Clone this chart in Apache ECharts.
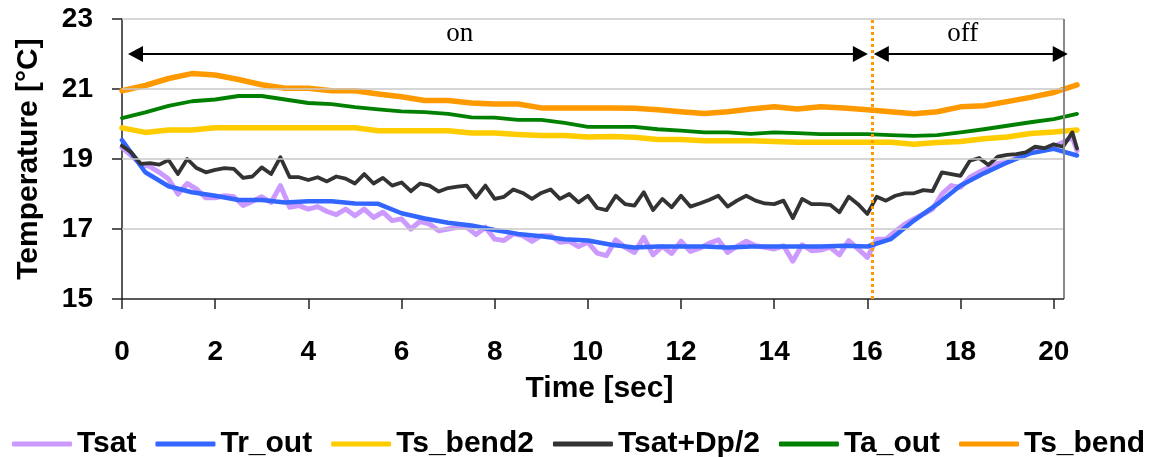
<!DOCTYPE html>
<html>
<head>
<meta charset="utf-8">
<script src="https://cdn.jsdelivr.net/npm/echarts@6/dist/echarts.min.js"></script>
<style>
    html, body { margin: 0; padding: 0; background: #fff; }
    #chartDiv { width: 1155px; height: 457px; }
</style>
</head>
<body>
<div id="chartDiv"></div>
<script>
// sampled every 0.2 s (noisy channels)
var timeFine = [
    0, 0.2, 0.4, 0.6, 0.8, 1.0, 1.2, 1.4, 1.6, 1.8,
    2.0, 2.2, 2.4, 2.6, 2.8, 3.0, 3.2, 3.4, 3.6, 3.8,
    4.0, 4.2, 4.4, 4.6, 4.8, 5.0, 5.2, 5.4, 5.6, 5.8,
    6.0, 6.2, 6.4, 6.6, 6.8, 7.0, 7.2, 7.4, 7.6, 7.8,
    8.0, 8.2, 8.4, 8.6, 8.8, 9.0, 9.2, 9.4, 9.6, 9.8,
    10.0, 10.2, 10.4, 10.6, 10.8, 11.0, 11.2, 11.4, 11.6, 11.8,
    12.0, 12.2, 12.4, 12.6, 12.8, 13.0, 13.2, 13.4, 13.6, 13.8,
    14.0, 14.2, 14.4, 14.6, 14.8, 15.0, 15.2, 15.4, 15.6, 15.8,
    16.0, 16.2, 16.4, 16.6, 16.8, 17.0, 17.2, 17.4, 17.6, 17.8,
    18.0, 18.2, 18.4, 18.6, 18.8, 19.0, 19.2, 19.4, 19.6, 19.8,
    20.0, 20.2, 20.4, 20.5
];
// sampled every 0.5 s (smooth channels)
var timeCoarse = [
    0, 0.5, 1.0, 1.5, 2.0, 2.5, 3.0, 3.5, 4.0, 4.5,
    5.0, 5.5, 6.0, 6.5, 7.0, 7.5, 8.0, 8.5, 9.0, 9.5,
    10.0, 10.5, 11.0, 11.5, 12.0, 12.5, 13.0, 13.5, 14.0, 14.5,
    15.0, 15.5, 16.0, 16.5, 17.0, 17.5, 18.0, 18.5, 19.0, 19.5,
    20.0, 20.5
];

var tsat = [
    19.33, 19.1, 18.86, 18.78, 18.62, 18.43, 18.0, 18.3, 18.14, 17.89,
    17.89, 17.95, 17.92, 17.67, 17.79, 17.92, 17.76, 18.24, 17.62, 17.67,
    17.57, 17.64, 17.5, 17.41, 17.57, 17.38, 17.57, 17.33, 17.48, 17.24,
    17.29, 17.0, 17.22, 17.14, 16.95, 17.0, 17.05, 17.05, 16.84, 17.05,
    16.71, 16.67, 16.86, 16.81, 16.65, 16.81, 16.81, 16.62, 16.65, 16.5,
    16.62, 16.31, 16.24, 16.69, 16.48, 16.33, 16.76, 16.26, 16.5, 16.3,
    16.65, 16.36, 16.45, 16.59, 16.69, 16.33, 16.5, 16.65, 16.52, 16.48,
    16.43, 16.52, 16.08, 16.55, 16.38, 16.4, 16.48, 16.26, 16.67, 16.43,
    16.19, 16.71, 16.71, 16.93, 17.14, 17.29, 17.43, 17.57, 18.0, 18.24,
    18.19, 18.48, 18.62, 18.76, 18.88, 18.9, 19.03, 19.12, 19.29, 19.26,
    19.35, 19.48, 19.62, 19.24
];
var tsatDp = [
    19.38, 19.19, 18.86, 18.88, 18.84, 18.97, 18.57, 19.0, 18.74, 18.62,
    18.69, 18.74, 18.72, 18.46, 18.5, 18.76, 18.57, 19.05, 18.48, 18.48,
    18.4, 18.48, 18.36, 18.5, 18.44, 18.3, 18.57, 18.3, 18.46, 18.24,
    18.33, 18.08, 18.3, 18.24, 18.07, 18.17, 18.21, 18.24, 17.9, 18.24,
    17.86, 17.92, 18.13, 18.03, 17.86, 18.03, 18.13, 17.86, 18.0, 17.76,
    17.95, 17.6, 17.54, 17.95, 17.71, 17.67, 18.05, 17.54, 17.86, 17.62,
    17.95, 17.64, 17.73, 17.83, 17.95, 17.64, 17.81, 17.95, 17.81, 17.73,
    17.71, 17.81, 17.31, 17.86, 17.71, 17.71, 17.69, 17.48, 17.92, 17.71,
    17.43, 17.92, 17.81, 17.95, 18.02, 18.02, 18.11, 18.08, 18.62, 18.57,
    18.52, 18.95, 19.03, 18.83, 19.07, 19.12, 19.14, 19.19, 19.35, 19.31,
    19.42, 19.35, 19.76, 19.3
];
var trOut = [
    19.54, 18.62, 18.22, 18.05, 17.95, 17.83, 17.83, 17.76, 17.79, 17.79,
    17.73, 17.72, 17.45, 17.3, 17.18, 17.1, 16.97, 16.86, 16.79, 16.71,
    16.67, 16.55, 16.47, 16.5, 16.5, 16.5, 16.47, 16.5, 16.5, 16.5,
    16.5, 16.52, 16.5, 16.71, 17.24, 17.71, 18.24, 18.59, 18.9, 19.16,
    19.29, 19.1
];
var tsBend2 = [
    19.89, 19.76, 19.83, 19.83, 19.89, 19.89, 19.89, 19.89, 19.89, 19.89,
    19.89, 19.81, 19.81, 19.81, 19.81, 19.74, 19.74, 19.7, 19.67, 19.67,
    19.63, 19.64, 19.62, 19.56, 19.56, 19.52, 19.52, 19.52, 19.5, 19.48,
    19.48, 19.48, 19.48, 19.48, 19.42, 19.47, 19.5, 19.58, 19.63, 19.73,
    19.77, 19.83
];
var taOut = [
    20.17, 20.33, 20.52, 20.65, 20.7, 20.8, 20.8, 20.7, 20.6, 20.57,
    20.48, 20.42, 20.36, 20.34, 20.29, 20.19, 20.18, 20.12, 20.12, 20.03,
    19.92, 19.92, 19.92, 19.85, 19.81, 19.76, 19.76, 19.72, 19.76, 19.74,
    19.71, 19.71, 19.71, 19.68, 19.66, 19.68, 19.76, 19.85, 19.95, 20.05,
    20.14, 20.29
];
var tsBend = [
    20.95, 21.1, 21.3, 21.44, 21.4, 21.27, 21.12, 21.02, 21.02, 20.95,
    20.95, 20.86, 20.78, 20.67, 20.67, 20.6, 20.57, 20.57, 20.46, 20.46,
    20.46, 20.46, 20.45, 20.41, 20.35, 20.3, 20.35, 20.43, 20.49, 20.43,
    20.49, 20.46, 20.41, 20.35, 20.29, 20.35, 20.49, 20.52, 20.64, 20.76,
    20.9, 21.12
];

var seriesNames = ['Tsat', 'Tr_out', 'Ts_bend2', 'Tsat+Dp/2', 'Ta_out', 'Ts_bend'];
var timeTicks = [0, 2, 4, 6, 8, 10, 12, 14, 16, 18, 20];
var tempTicks = [15, 17, 19, 21, 23];
var frameEnd = 20.22;      // right edge of the plot frame (traces run a little past it)
var switchTime = 16.1;     // pump switched off
var arrowLevel = 22;       // temperature level of the on/off arrows
var onArrow = [0.29, 15.85];
var offArrow = [16.3, 20.14];
var phaseLabels = [['on', 7.25, 22.58], ['off', 18.05, 22.58]];

var FONT = '"Liberation Sans", Arial, sans-serif';

function pairs(xs, ys) {
    var out = [];
    for (var i = 0; i < xs.length && i < ys.length; i++) {
        out.push([xs[i], ys[i]]);
    }
    return out;
}

function lineSeries(name, xs, ys, color, width) {
    return {
        name: name,
        type: 'line',
        data: pairs(xs, ys),
        symbol: 'none',
        showSymbol: false,
        clip: false,
        lineStyle: {color: color, width: width, join: 'round', cap: 'round'},
        itemStyle: {color: color},
        animation: false
    };
}

function drawChart() {
    var series = [
        lineSeries('Tsat', timeFine, tsat, '#CC99FF', 5),
        lineSeries('Tr_out', timeCoarse, trOut, '#3366FF', 4.5),
        lineSeries('Ts_bend2', timeCoarse, tsBend2, '#FFCC00', 5.5),
        lineSeries('Tsat+Dp/2', timeFine, tsatDp, '#333333', 3.8),
        lineSeries('Ta_out', timeCoarse, taOut, '#008000', 3.8),
        lineSeries('Ts_bend', timeCoarse, tsBend, '#FF9900', 5.5)
    ];

    // plot frame: gridlines, right border and bottom axis line, stopping at frameEnd
    var frameLines = [];
    tempTicks.forEach(function (v) {
        if (v === 15) return;
        frameLines.push([{coord: [0, v]}, {coord: [frameEnd, v]}]);
    });
    frameLines.push([{coord: [frameEnd, 15], lineStyle: {color: '#8a8a8a', width: 2}},
                     {coord: [frameEnd, 23]}]);
    frameLines.push([{coord: [0, 15], lineStyle: {color: '#222', width: 1.5}},
                     {coord: [frameEnd, 15]}]);
    series.unshift({
        name: 'frame',
        type: 'line',
        data: [],
        z: 1,
        animation: false,
        markLine: {
            silent: true,
            symbol: 'none',
            label: {show: false},
            lineStyle: {color: '#c8c8c8', width: 1.5, type: 'solid'},
            data: frameLines
        }
    });

    // dotted switch-off line
    series.push({
        name: 'switch',
        type: 'line',
        data: [],
        animation: false,
        markLine: {
            silent: true,
            symbol: 'none',
            label: {show: false},
            lineStyle: {color: '#FF9900', width: 3, type: [3, 3]},
            data: [[{coord: [switchTime, 15]}, {coord: [switchTime, 23]}]]
        }
    });

    // on / off arrows and their labels
    series.push({
        name: 'phases',
        type: 'line',
        data: [],
        animation: false,
        markLine: {
            silent: true,
            symbol: ['triangle', 'triangle'],
            symbolSize: [16, 15],
            label: {show: false},
            lineStyle: {color: '#000', width: 2, type: 'solid'},
            data: [
                [{coord: [onArrow[0], arrowLevel]}, {coord: [onArrow[1], arrowLevel]}],
                [{coord: [offArrow[0], arrowLevel]}, {coord: [offArrow[1], arrowLevel]}]
            ]
        },
        markPoint: {
            silent: true,
            symbol: 'circle',
            symbolSize: 0,
            label: {
                show: true,
                formatter: '{b}',
                color: '#000',
                fontSize: 27,
                fontFamily: '"Liberation Serif", "Times New Roman", serif'
            },
            data: phaseLabels.map(function (p) {
                return {name: p[0], coord: [p[1], p[2]]};
            })
        }
    });

    var option = {
        backgroundColor: '#fff',
        animation: false,
        grid: {
            left: 122,
            right: 78,
            top: 19,
            bottom: 158,
            show: false
        },
        legend: {
            data: seriesNames,
            left: 7,
            top: 424,
            width: 1148,
            icon: 'roundRect',
            itemWidth: 60,
            itemHeight: 5,
            itemGap: 19,
            textStyle: {fontSize: 30, fontWeight: 'bold', color: '#000', fontFamily: FONT}
        },
        xAxis: {
            type: 'value',
            min: 0,
            max: 20.5,
            interval: 2,
            name: 'Time [sec]',
            nameLocation: 'middle',
            nameGap: 75,
            nameTextStyle: {fontSize: 30, fontWeight: 'bold', color: '#000', fontFamily: FONT},
            axisLine: {show: false, onZero: false},
            axisTick: {
                show: true,
                length: 10,
                customValues: timeTicks,
                lineStyle: {color: '#222', width: 1.5}
            },
            axisLabel: {
                margin: 39,
                fontSize: 28,
                fontWeight: 'bold',
                color: '#000',
                fontFamily: FONT,
                customValues: timeTicks
            },
            splitLine: {show: false}
        },
        yAxis: {
            type: 'value',
            min: 15,
            max: 23,
            interval: 2,
            name: 'Temperature [°C]',
            nameLocation: 'middle',
            nameGap: 78,
            nameTextStyle: {fontSize: 30, fontWeight: 'bold', color: '#000', fontFamily: FONT},
            axisLine: {show: true, lineStyle: {color: '#222', width: 1.5}},
            axisTick: {show: true, length: 10, lineStyle: {color: '#222', width: 1.5}},
            axisLabel: {margin: 29, fontSize: 28, fontWeight: 'bold', color: '#000', fontFamily: FONT},
            splitLine: {show: false}
        },
        series: series
    };

    var chart = echarts.init(document.getElementById('chartDiv'));
    chart.setOption(option);
}

drawChart();
</script>
</body>
</html>
